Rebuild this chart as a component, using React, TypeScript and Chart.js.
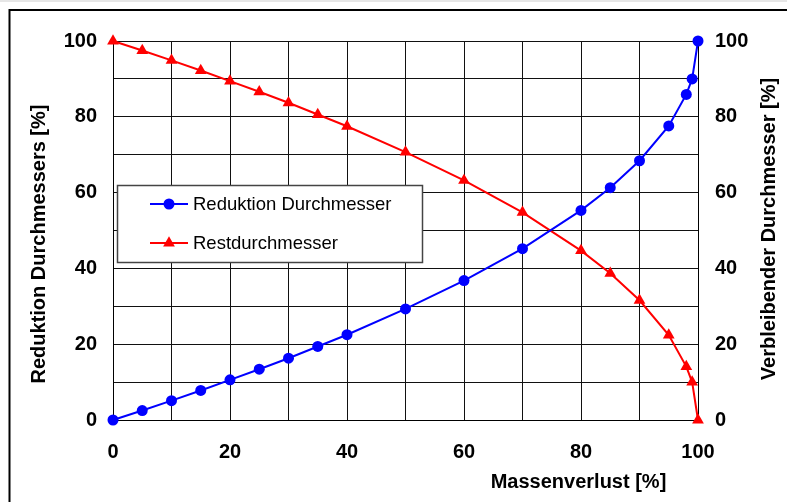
import React, { useEffect, useRef } from "react";
import { Chart, registerables } from "chart.js";

Chart.register(...registerables);

const massLoss = [0, 5, 10, 15, 20, 25, 30, 35, 40, 50, 60, 70, 80, 85, 90, 95, 98, 99, 100];
const reductionDiameter = [0, 2.5, 5.1, 7.8, 10.6, 13.4, 16.3, 19.4, 22.5, 29.3, 36.8, 45.2, 55.3, 61.3, 68.4, 77.6, 85.9, 90.0, 100];
const remainingDiameter = [100, 97.5, 94.9, 92.2, 89.4, 86.6, 83.7, 80.6, 77.5, 70.7, 63.2, 54.8, 44.7, 38.7, 31.6, 22.4, 14.1, 10.0, 0];
const axisTickLabels = [0, 20, 40, 60, 80, 100];
const seriesLabels = ["Reduktion Durchmesser", "Restdurchmesser"];
const xTitle = "Massenverlust [%]";
const yLeftTitle = "Reduktion Durchmessers [%]";
const yRightTitle = "Verbleibender Durchmesser [%]";

const FAMILY = "Arial, 'Liberation Sans', Helvetica, sans-serif";
const BLUE = "#0000ff";
const RED = "#ff0000";

const decorPlugin = {
  id: "decor",
  beforeDraw(chart: any) {
    const ctx = chart.ctx;
    ctx.save();
    ctx.fillStyle = "#ffffff";
    ctx.fillRect(0, 0, chart.width, chart.height);
    ctx.fillStyle = "#e6e6e6";
    ctx.fillRect(0, 0, chart.width, 2);
    ctx.strokeStyle = "#000000";
    ctx.lineWidth = 2;
    ctx.strokeRect(9.5, 10, chart.width + 20, chart.height + 20);
    ctx.restore();
  },
  afterDraw(chart: any) {
    const ctx = chart.ctx;
    ctx.save();
    ctx.fillStyle = "#000000";
    ctx.font = `bold 20px ${FAMILY}`;
    ctx.textAlign = "center";
    ctx.textBaseline = "alphabetic";
    ctx.fillText(xTitle, 578.5, 488);

    ctx.save();
    ctx.translate(45, 244);
    ctx.rotate(-Math.PI / 2);
    ctx.fillText(yLeftTitle, 0, 0);
    ctx.restore();

    ctx.save();
    ctx.translate(775, 229);
    ctx.rotate(-Math.PI / 2);
    ctx.fillText(yRightTitle, 0, 0);
    ctx.restore();

    // legend box
    const bx = 117.5, by = 185.5, bw = 305, bh = 77;
    ctx.fillStyle = "#ffffff";
    ctx.fillRect(bx, by, bw, bh);
    ctx.strokeStyle = "#444444";
    ctx.lineWidth = 1.5;
    ctx.strokeRect(bx, by, bw, bh);

    const rows = [204, 243];
    chart.data.datasets.forEach((ds: any, i: number) => {
      const y = rows[i];
      ctx.strokeStyle = ds.borderColor;
      ctx.lineWidth = 2;
      ctx.beginPath();
      ctx.moveTo(150, y);
      ctx.lineTo(188, y);
      ctx.stroke();
      ctx.fillStyle = ds.backgroundColor;
      ctx.beginPath();
      if (ds.pointStyle === "triangle") {
        const r = 6.8;
        ctx.moveTo(169, y - r);
        ctx.lineTo(169 + r * Math.sin((2 * Math.PI) / 3), y - r * Math.cos((2 * Math.PI) / 3));
        ctx.lineTo(169 + r * Math.sin((4 * Math.PI) / 3), y - r * Math.cos((4 * Math.PI) / 3));
        ctx.closePath();
      } else {
        ctx.arc(169, y, 5.5, 0, Math.PI * 2);
      }
      ctx.fill();
      ctx.fillStyle = "#000000";
      ctx.font = `18.5px ${FAMILY}`;
      ctx.textAlign = "left";
      ctx.textBaseline = "middle";
      ctx.fillText(ds.label, 193, y + 1);
    });
    ctx.restore();
  },
};

const tickFont = { family: FAMILY, size: 20, weight: "bold" as const };
const tickCb = (v: any) => (axisTickLabels.includes(Number(v)) ? String(v) : "");

export default function App() {
  const ref = useRef<HTMLCanvasElement | null>(null);

  useEffect(() => {
    if (!ref.current) return;
    const chart = new Chart(ref.current, {
      type: "line",
      data: {
        datasets: [
          {
            label: seriesLabels[0],
            data: massLoss.map((x, i) => ({ x, y: reductionDiameter[i] })),
            borderColor: BLUE,
            backgroundColor: BLUE,
            borderWidth: 2,
            pointStyle: "circle",
            pointRadius: 5.5,
            pointBorderWidth: 0,
            yAxisID: "y",
            clip: false,
            tension: 0,
          },
          {
            label: seriesLabels[1],
            data: massLoss.map((x, i) => ({ x, y: remainingDiameter[i] })),
            borderColor: RED,
            backgroundColor: RED,
            borderWidth: 2,
            pointStyle: "triangle",
            pointRadius: 6.8,
            pointBorderWidth: 0,
            yAxisID: "y1",
            clip: false,
            tension: 0,
          },
        ],
      },
      options: {
        animation: false,
        responsive: true,
        maintainAspectRatio: false,
        layout: { padding: { top: 41, left: 0, right: 0, bottom: 0 } },
        plugins: { legend: { display: false }, tooltip: { enabled: false } },
        scales: {
          x: {
            type: "linear",
            position: "bottom",
            min: 0,
            max: 100,
            afterFit: (s: any) => {
              s.height = 82;
            },
            grid: { color: "#111111", lineWidth: 1, drawTicks: false },
            border: { color: "#000000", width: 1 },
            ticks: {
              stepSize: 10,
              autoSkip: false,
              maxRotation: 0,
              padding: 20,
              color: "#000000",
              font: tickFont,
              callback: tickCb,
            },
          },
          y: {
            type: "linear",
            position: "left",
            min: 0,
            max: 100,
            afterFit: (s: any) => {
              s.width = 113;
            },
            grid: { color: "#111111", lineWidth: 1, drawTicks: false },
            border: { color: "#000000", width: 1 },
            ticks: {
              stepSize: 10,
              padding: 16,
              color: "#000000",
              font: tickFont,
              callback: tickCb,
            },
          },
          y1: {
            type: "linear",
            position: "right",
            min: 0,
            max: 100,
            afterFit: (s: any) => {
              s.width = 89;
            },
            grid: { drawOnChartArea: false, drawTicks: false },
            border: { color: "#000000", width: 1 },
            ticks: {
              stepSize: 10,
              padding: 17,
              color: "#000000",
              font: tickFont,
              callback: tickCb,
            },
          },
        },
      },
      plugins: [decorPlugin],
    } as any);
    return () => chart.destroy();
  }, []);

  return (
    <div style={{ position: "fixed", left: 0, top: 0, width: 787, height: 502 }}>
      <canvas ref={ref} />
    </div>
  );
}
